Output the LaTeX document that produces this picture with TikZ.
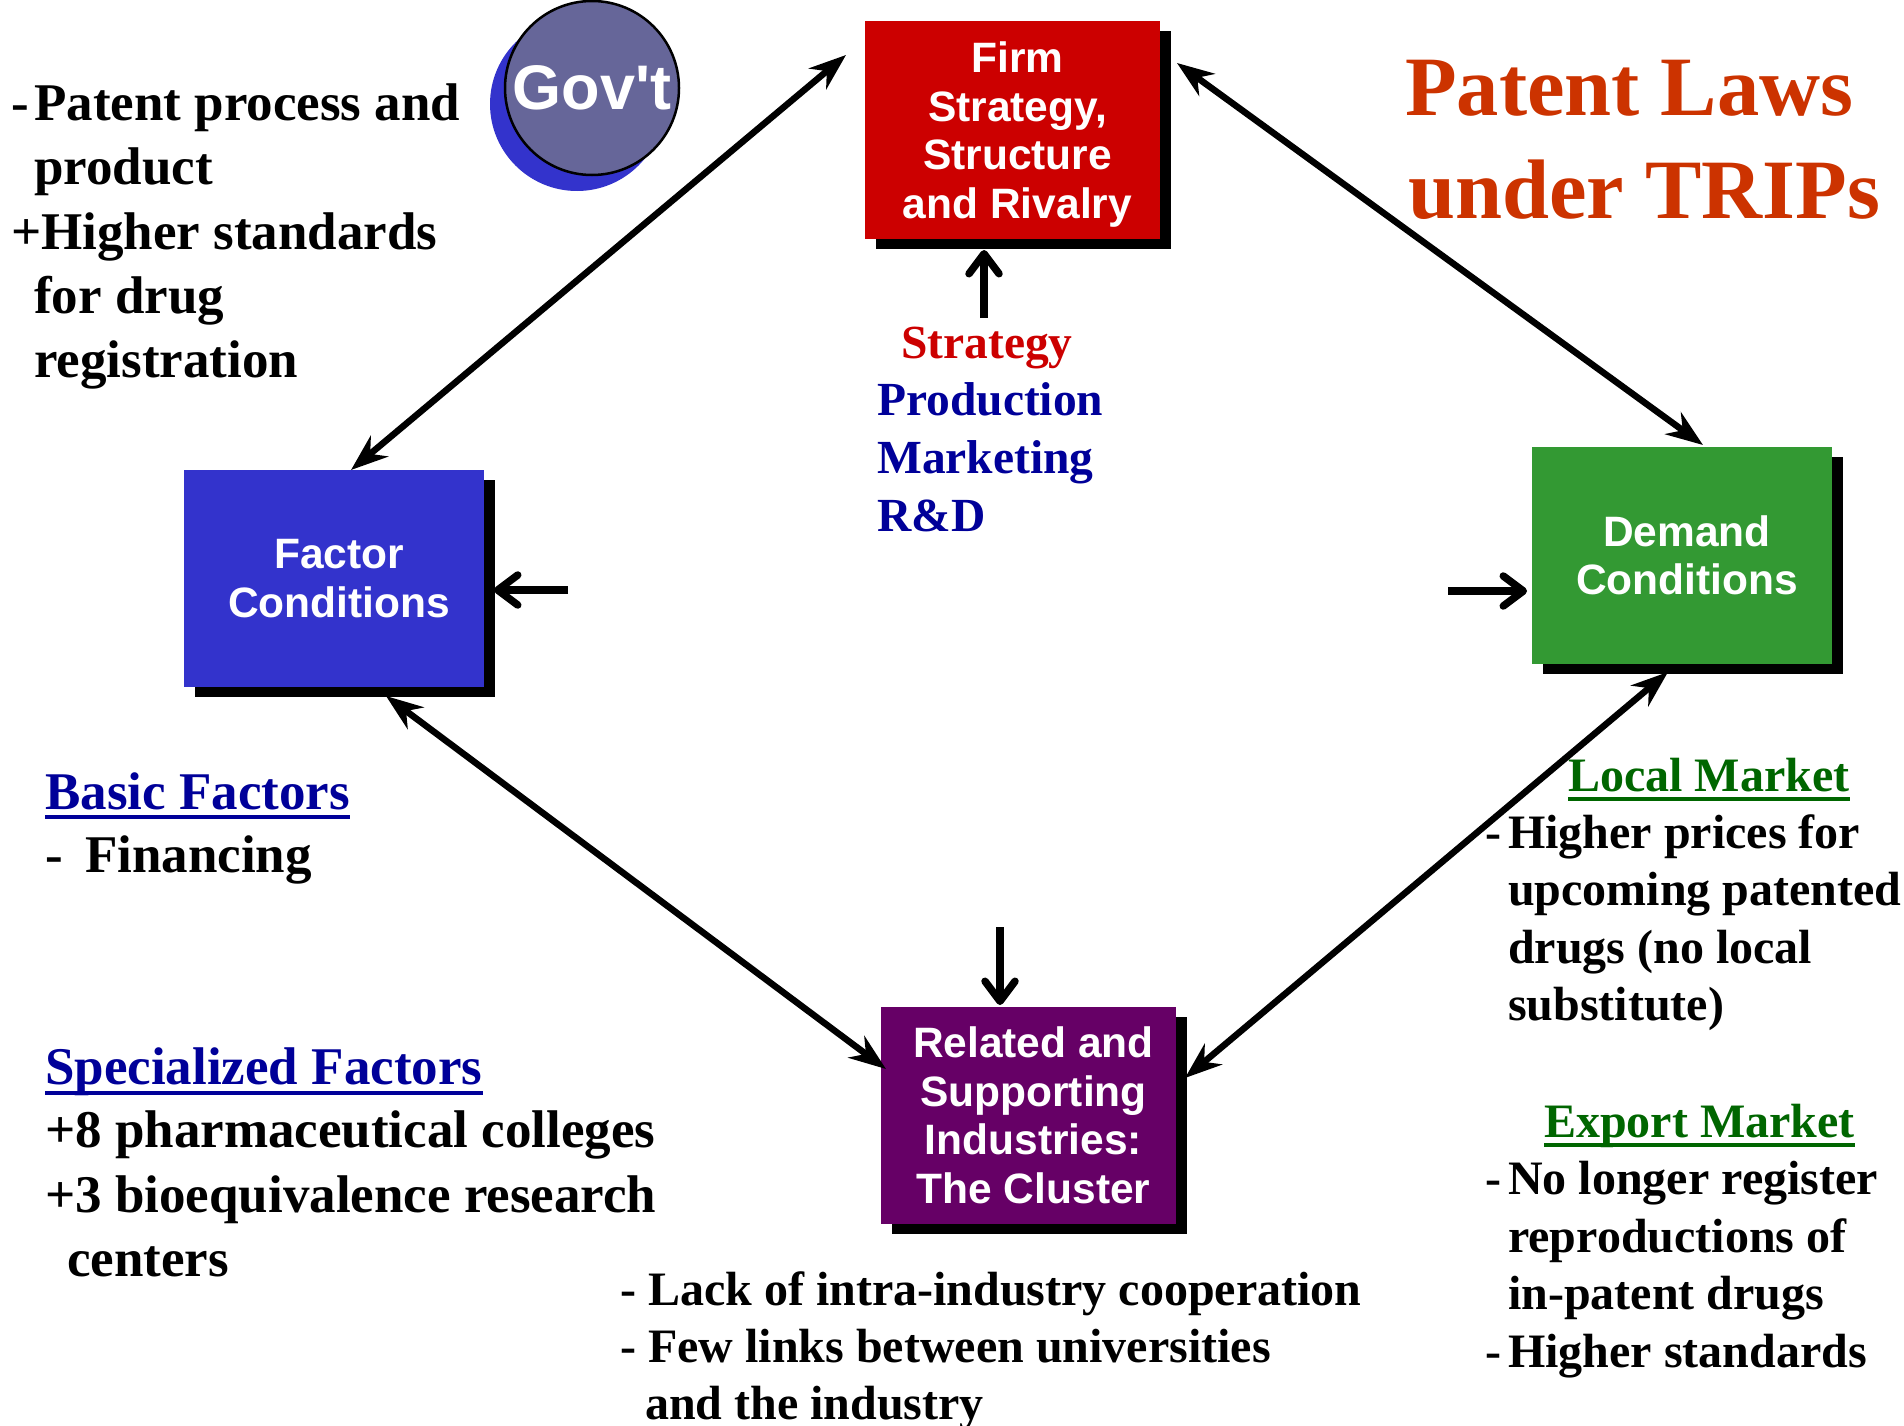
\documentclass[tikz,border=0pt]{standalone}
\usepackage{fontspec}
\setmainfont{Liberation Serif}
\newfontfamily\boxfont{Liberation Sans}
\usetikzlibrary{arrows.meta,shadows}
\definecolor{firmred}{HTML}{CC0000}
\definecolor{factblue}{HTML}{3333CC}
\definecolor{demgreen}{HTML}{339933}
\definecolor{relpurple}{HTML}{660066}
\definecolor{govgray}{HTML}{666699}
\definecolor{titlered}{HTML}{CC3300}
\definecolor{navy}{HTML}{000099}
\definecolor{darkgreen}{HTML}{006600}
\begin{document}
\begin{tikzpicture}[x=1pt,y=-1pt,
  box/.style={rectangle, inner sep=0pt,
    general shadow={fill=black, shadow xshift=11pt, shadow yshift=-10pt}},
  boxtext/.style={inner sep=0pt, text=white, align=center,
    font=\boxfont\bfseries\fontsize{42.5}{48.5}\selectfont},
  txt/.style={anchor=base west, inner sep=0pt},
  big/.style={font=\bfseries\fontsize{53}{64}\selectfont},
  mid/.style={font=\bfseries\fontsize{48}{57.5}\selectfont},
  diag/.style={line width=6.5pt, arrows={Stealth[length=37pt,width=27pt,inset=12pt]-Stealth[length=37pt,width=27pt,inset=12pt]}},
  shortarr/.style={line width=7.5pt, arrows={-Straight Barb[length=20pt,width=30pt,round]}},
  uline/.style={line width=4pt}]
\useasboundingbox (0,0) rectangle (1904,1426);
\fill[white] (0,0) rectangle (1904,1426);

% boxes
\node[box, fill=firmred, minimum width=295pt, minimum height=218pt] (firm) at (1012.5,130) {};
\node[boxtext, text depth=0pt] (firmtext) at ([xshift=5pt]firm.center) {Firm\\Strategy,\\Structure\\and Rivalry};
\node[box, fill=factblue, minimum width=300pt, minimum height=217pt] (factor) at (334,578.5) {};
\node[boxtext] (factortext) at ([xshift=5pt]factor.center) {Factor\\Conditions};
\node[box, fill=demgreen, minimum width=300pt, minimum height=217pt] (demand) at (1682,555.5) {};
\node[boxtext] (demandtext) at ([xshift=5pt]demand.center) {Demand\\Conditions};
\node[box, fill=relpurple, minimum width=295pt, minimum height=217pt] (related) at (1028.5,1115.5) {};
\node[boxtext] (relatedtext) at ([xshift=5pt]related.center) {Related and\\Supporting\\Industries:\\The Cluster};

% Gov't
\node[circle, fill=factblue, minimum size=174pt, inner sep=0pt] (govback) at (577,104) {};
\node[circle, fill=govgray, draw=black, line width=2.5pt, minimum size=174pt, inner sep=0pt, text=white,
  font=\boxfont\bfseries\fontsize{63}{63}\selectfont] (gov) at (592,88) {Gov\textquotesingle t};

% title
\node[txt, text=titlered, font=\bfseries\fontsize{84.5}{102}\selectfont] (title1) at (1405,116) {Patent Laws};
\node[txt, text=titlered, font=\bfseries\fontsize{84.5}{102}\selectfont] (title2) at (1408,218) {under TRIPs};

% top-left text
\node[txt, big] (g1) at (11,121) {\makebox[23pt][l]{-}Patent process and};
\node[txt, big] (g2) at (34,185) {product};
\node[txt, big] (g3) at (11,249) {+Higher standards};
\node[txt, big] (g4) at (34,313) {for drug};
\node[txt, big] (g5) at (34,377) {registration};

% strategy list
\node[txt, text=firmred, font=\bfseries\fontsize{47.5}{57.5}\selectfont] (s1) at (901,358) {Strategy};
\node[txt, text=navy, font=\bfseries\fontsize{47.5}{57.5}\selectfont] (s2) at (877,415.5) {Production};
\node[txt, text=navy, font=\bfseries\fontsize{47.5}{57.5}\selectfont] (s3) at (877,473) {Marketing};
\node[txt, text=navy, font=\bfseries\fontsize{47.5}{57.5}\selectfont] (s4) at (877,531) {R\&D};

% factor texts
\node[txt, big, text=navy] (bf) at (45,809) {Basic Factors};
\draw[uline, navy] ([yshift=-8pt]bf.base west) -- ([yshift=-8pt]bf.base east);
\node[txt, big] (bf1) at (45,872) {\makebox[40pt][l]{-}Financing};
\node[txt, big, text=navy] (sf) at (45,1084) {Specialized Factors};
\draw[uline, navy] ([yshift=-8.5pt]sf.base west) -- ([yshift=-8.5pt]sf.base east);
\node[txt, big] (sf1) at (45,1147) {+8 pharmaceutical colleges};
\node[txt, big] (sf2) at (45,1212) {+3 bioequivalence research};
\node[txt, big] (sf3) at (67,1276) {centers};

% cluster texts
\node[txt, mid] (c1) at (620,1305) {- Lack of intra-industry cooperation};
\node[txt, mid] (c2) at (620,1362) {- Few links between universities};
\node[txt, mid] (c3) at (645,1419) {and the industry};

% demand texts
\node[txt, mid, text=darkgreen] (lm) at (1568,791) {Local Market};
\draw[uline, darkgreen] ([yshift=-8pt]lm.base west) -- ([yshift=-8pt]lm.base east);
\node[txt, mid] (lm1) at (1485,848) {\makebox[23pt][l]{-}Higher prices for};
\node[txt, mid] (lm2) at (1508,905.5) {upcoming patented};
\node[txt, mid] (lm3) at (1508,963) {drugs (no local};
\node[txt, mid] (lm4) at (1508,1020.5) {substitute)};
\node[txt, mid, text=darkgreen] (em) at (1544,1137) {Export Market};
\draw[uline, darkgreen] ([yshift=-8pt]em.base west) -- ([yshift=-8pt]em.base east);
\node[txt, mid] (em1) at (1485,1194.5) {\makebox[23pt][l]{-}No longer register};
\node[txt, mid] (em2) at (1508,1252) {reproductions of};
\node[txt, mid] (em3) at (1508,1309.5) {in-patent drugs};
\node[txt, mid] (em4) at (1485,1367) {\makebox[23pt][l]{-}Higher standards};

% connector end points
\coordinate (fa1) at (351,470);
\coordinate (fa2) at (846,55);
\coordinate (fd1) at (1177,63);
\coordinate (fd2) at (1703,445);
\coordinate (fr1) at (386,696);
\coordinate (fr2) at (886,1069);
\coordinate (dr1) at (1668,672);
\coordinate (dr2) at (1185,1078);
\coordinate (up1) at (984,318);
\coordinate (up2) at (984,250);
\coordinate (lf1) at (568,590);
\coordinate (lf2) at (494,590);
\coordinate (rt1) at (1448,591);
\coordinate (rt2) at (1527,591);
\coordinate (dn1) at (1000,927);
\coordinate (dn2) at (1000,1005);

\draw[diag] (fa1) -- (fa2);
\draw[diag] (fd1) -- (fd2);
\draw[diag] (fr1) -- (fr2);
\draw[diag] (dr1) -- (dr2);
\draw[shortarr] (up1) -- (up2);
\draw[shortarr] (lf1) -- (lf2);
\draw[shortarr] (rt1) -- (rt2);
\draw[shortarr] (dn1) -- (dn2);
\end{tikzpicture}
\end{document}
